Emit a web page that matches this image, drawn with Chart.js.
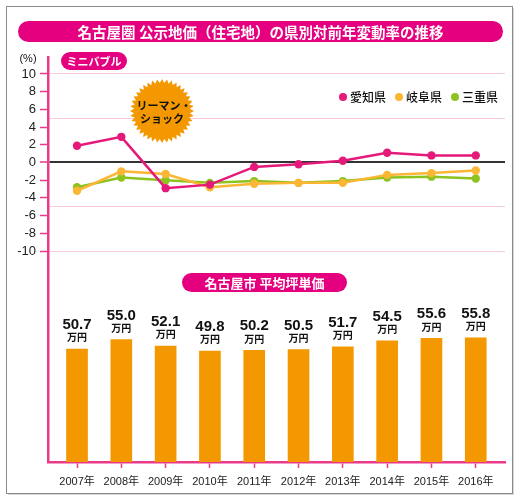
<!DOCTYPE html>
<html>
<head>
<meta charset="utf-8">
<script src="https://cdn.jsdelivr.net/npm/chart.js@4.4.1/dist/chart.umd.min.js"></script>
<style>
html,body{margin:0;padding:0;background:#fff;}
#wrap{width:520px;height:502px;position:relative;}
</style>
</head>
<body>
<div id="wrap"><canvas id="c" width="520" height="502"></canvas></div>
<script>
const years = ['2007年','2008年','2009年','2010年','2011年','2012年','2013年','2014年','2015年','2016年'];
const aichi = [1.9, 2.9, -2.9, -2.5, -0.5, -0.2, 0.2, 1.1, 0.8, 0.8];
const gifu  = [-3.2, -1.0, -1.3, -2.8, -2.4, -2.3, -2.3, -1.4, -1.2, -0.9];
const mie   = [-2.8, -1.7, -2.0, -2.3, -2.1, -2.3, -2.1, -1.7, -1.6, -1.8];
const nagoyaPrice = [50.7, 55.0, 52.1, 49.8, 50.2, 50.5, 51.7, 54.5, 55.6, 55.8];
const seriesNames = ['愛知県','岐阜県','三重県'];
const rateTicks = [10, 8, 6, 5, 4, 2, 0, -2, -4, -5, -6, -8, -10];
const priceUnit = '万円';

const MAGENTA = '#e4007f';
const PINK = '#ea3a8a';
const GRID_PINK = '#f9c9dd';
const C_AICHI = '#e5197a';
const C_GIFU = '#fbb634';
const C_MIE = '#8cc31e';
const C_BAR = '#f39800';
const JP = '"Noto Sans CJK JP", sans-serif';

const toXY = arr => arr.map((v, i) => ({x: i, y: v}));

function pill(ctx, x1, y1, x2, y2, text, font) {
  const r = (y2 - y1) / 2;
  ctx.save();
  ctx.fillStyle = MAGENTA;
  ctx.beginPath();
  ctx.moveTo(x1 + r, y1);
  ctx.lineTo(x2 - r, y1);
  ctx.arc(x2 - r, y1 + r, r, -Math.PI / 2, Math.PI / 2);
  ctx.lineTo(x1 + r, y2);
  ctx.arc(x1 + r, y1 + r, r, Math.PI / 2, Math.PI * 1.5);
  ctx.closePath();
  ctx.fill();
  ctx.fillStyle = '#fff';
  ctx.font = font;
  ctx.textAlign = 'center';
  ctx.textBaseline = 'middle';
  ctx.fillText(text, (x1 + x2) / 2, (y1 + y2) / 2 + 0.5);
  ctx.restore();
}

const deco = {
  id: 'deco',
  beforeDraw(chart) {
    const ctx = chart.ctx;
    ctx.save();
    ctx.fillStyle = '#fff';
    ctx.fillRect(0, 0, 520, 502);
    ctx.fillStyle = '#d8d8d8';
    ctx.fillRect(8, 8, 506, 487);
    ctx.fillStyle = '#fff';
    ctx.fillRect(6.5, 6.5, 506, 487);
    ctx.strokeStyle = '#8a8a8a';
    ctx.lineWidth = 1;
    ctx.strokeRect(6.5, 6.5, 506, 487);
    ctx.restore();
  },
  beforeDatasetsDraw(chart) {
    const ctx = chart.ctx;
    const cx = 162, cy = 111, ro = 32, ri = 28, n = 40;
    ctx.save();
    ctx.fillStyle = C_BAR;
    ctx.beginPath();
    for (let i = 0; i < n * 2; i++) {
      const a = (Math.PI * i) / n - Math.PI / 2;
      const r = i % 2 === 0 ? ro : ri;
      const px = cx + Math.cos(a) * r, py = cy + Math.sin(a) * r;
      if (i === 0) ctx.moveTo(px, py); else ctx.lineTo(px, py);
    }
    ctx.closePath();
    ctx.fill();
    ctx.fillStyle = '#111';
    ctx.font = 'bold 11px ' + JP;
    ctx.textAlign = 'center';
    ctx.textBaseline = 'middle';
    ctx.fillText('リーマン・', cx + 2, 106);
    ctx.fillText('ショック', cx, 119);
    ctx.restore();
  },
  afterDatasetsDraw(chart) {
    const ctx = chart.ctx;
    const meta = chart.getDatasetMeta(3);
    ctx.save();
    ctx.fillStyle = '#111';
    ctx.textAlign = 'center';
    ctx.textBaseline = 'middle';
    meta.data.forEach((el, i) => {
      ctx.font = 'bold 15px "Liberation Sans Narrow", "Liberation Sans", sans-serif';
      ctx.fillText(nagoyaPrice[i].toFixed(1), el.x, el.y - 24);
      ctx.font = 'bold 10px ' + JP;
      ctx.fillText(priceUnit, el.x, el.y - 11.5);
    });
    ctx.restore();
  },
  afterDraw(chart) {
    const ctx = chart.ctx;
    pill(ctx, 18, 21, 503, 42, '名古屋圏 公示地価（住宅地）の県別対前年変動率の推移', 'bold 14.5px ' + JP);
    pill(ctx, 61, 52, 127, 70, 'ミニバブル', 'bold 11px ' + JP);
    pill(ctx, 182, 273, 347, 292, '名古屋市 平均坪単価', 'bold 13px ' + JP);
    ctx.save();
    ctx.fillStyle = '#111';
    ctx.font = '11px "Liberation Sans", sans-serif';
    ctx.textAlign = 'center';
    ctx.textBaseline = 'middle';
    ctx.fillText('(%)', 28, 59);
    const cols = [C_AICHI, C_GIFU, C_MIE];
    const lx = [343, 399, 455];
    ctx.textAlign = 'left';
    ctx.font = '500 12px ' + JP;
    seriesNames.forEach((nm, i) => {
      ctx.fillStyle = cols[i];
      ctx.beginPath();
      ctx.arc(lx[i], 97, 4, 0, Math.PI * 2);
      ctx.fill();
      ctx.fillStyle = '#111';
      ctx.fillText(nm, lx[i] + 7, 97.5);
    });
    ctx.restore();
  }
};

const lineDs = (label, data, color, order) => ({
  type: 'line', label, data: toXY(data), yAxisID: 'y', order,
  borderColor: color, backgroundColor: color, borderWidth: 2.5,
  pointRadius: 4.2, pointBackgroundColor: color, pointBorderWidth: 0, tension: 0
});

new Chart(document.getElementById('c'), {
  type: 'bar',
  data: {
    datasets: [
      lineDs(seriesNames[0], aichi, C_AICHI, 1),
      lineDs(seriesNames[1], gifu, C_GIFU, 2),
      lineDs(seriesNames[2], mie, C_MIE, 3),
      { type: 'bar', label: '平均坪単価', data: toXY(nagoyaPrice), yAxisID: 'y2', order: 10,
        backgroundColor: C_BAR, barThickness: 21 }
    ]
  },
  plugins: [deco],
  options: {
    responsive: false,
    animation: false,
    events: [],
    layout: { padding: { left: 0, top: 57, right: 15, bottom: 0 } },
    plugins: { legend: { display: false }, tooltip: { enabled: false }, title: { display: false } },
    scales: {
      x: {
        type: 'linear', min: -0.655, max: 9.66, offset: false,
        afterBuildTicks: s => { s.ticks = years.map((_, i) => ({ value: i })); },
        afterFit: s => { s.height = 40; },
        border: { color: PINK, width: 2.5 },
        grid: { offset: false, drawOnChartArea: false, tickLength: 6, tickColor: PINK, tickWidth: 1.5 },
        ticks: { callback: v => years[v], font: { size: 11, family: '"Liberation Sans", ' + JP }, color: '#222', padding: 7, maxRotation: 0, autoSkip: false }
      },
      y: {
        type: 'linear', position: 'left', min: -33.84, max: 11.92,
        afterBuildTicks: s => { s.ticks = rateTicks.map(v => ({ value: v })); },
        afterFit: s => { s.width = 48; },
        border: { color: PINK, width: 2.5 },
        grid: {
          color: c => (c.tick && c.tick.value === 0) ? '#333' : ([10, 5, -5, -10].includes(c.tick && c.tick.value) ? GRID_PINK : 'rgba(0,0,0,0)'),
          lineWidth: c => (c.tick && c.tick.value === 0) ? 2 : 1,
          tickColor: c => (c.tick && Math.abs(c.tick.value) % 2 === 0) ? PINK : 'rgba(0,0,0,0)',
          tickLength: 8, tickWidth: 1.5
        },
        ticks: {
          callback: v => (Math.abs(v) % 2 === 0 ? String(v) : ''),
          font: { size: 13, family: '"Liberation Sans", sans-serif' }, color: '#222', padding: 4, autoSkip: false
        }
      },
      y2: { type: 'linear', display: false, min: 0, max: 182 }
    }
  }
});
</script>
</body>
</html>
